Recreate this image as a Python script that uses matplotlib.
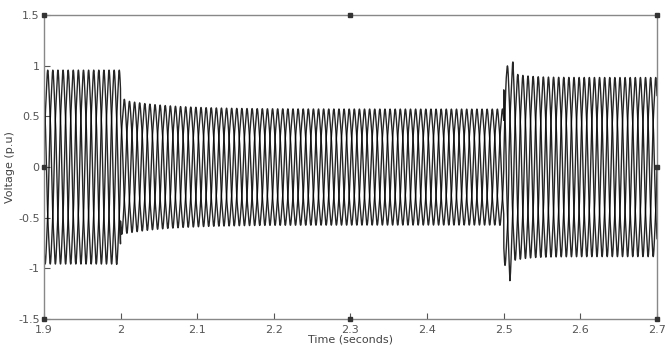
import matplotlib
matplotlib.use('Agg')
import matplotlib.pyplot as plt
import numpy as np

# segment boundaries (s) and envelope amplitudes (p.u)
seg_start = [1.9, 2.0, 2.5]
seg_end = [2.0, 2.5, 2.7]
amp_start = [0.92, 0.64, 0.92]
amp_end = [0.92, 0.55, 0.85]
decay = [1.0, 0.06, 0.02]
freq = 50.0
phase_shift_deg = [0, -120, 120]

# transient spikes at the switching instants (time, phase index, extra amplitude)
spike_t = [2.001, 2.503, 2.505, 2.508, 2.512]
spike_ph = [0, 0, 1, 2, 1]
spike_a = [0.08, 0.15, 0.10, 0.2, 0.12]

xticks = [1.9, 2.0, 2.1, 2.2, 2.3, 2.4, 2.5, 2.6, 2.7]
xlabels = ['1.9', '2', '2.1', '2.2', '2.3', '2.4', '2.5', '2.6', '2.7']
yticks = [-1.5, -1, -0.5, 0, 0.5, 1, 1.5]
ylabels = ['-1.5', '-1', '-0.5', '0', '0.5', '1', '1.5']

fig = plt.figure(figsize=(6.65, 3.51), dpi=100)
ax = fig.add_axes([0.066, 0.091, 0.922, 0.866])

t = np.linspace(1.9, 2.7, 16000)
for k in range(3):
    env = np.zeros_like(t)
    for s0, s1, a0, a1, tau in zip(seg_start, seg_end, amp_start, amp_end, decay):
        m = (t >= s0) & (t <= s1)
        env[m] = a1 + (a0 - a1) * np.exp(-(t[m] - s0) / tau)
    ph = np.deg2rad(phase_shift_deg[k])
    v = env * np.sin(2 * np.pi * freq * t + ph)
    # slight harmonic distortion
    v += 0.04 * env * np.sin(2 * np.pi * 5 * freq * t + 5 * ph)
    for st, sp, sa in zip(spike_t, spike_ph, spike_a):
        if sp == k:
            v += sa * np.sign(v) * np.exp(-np.abs(t - st) / 0.002)
    ax.plot(t, v, color='black', lw=1.0, alpha=0.85)

ax.set_xlim(1.9, 2.7)
ax.set_ylim(-1.5, 1.5)
ax.set_xticks(xticks)
ax.set_xticklabels(xlabels)
ax.set_yticks(yticks)
ax.set_yticklabels(ylabels)
ax.tick_params(direction='in', length=4, labelsize=8, colors='#555555')
ax.tick_params(axis='x', pad=4)
ax.tick_params(axis='y', pad=3)
for s in ax.spines.values():
    s.set_color('#888888')
    s.set_linewidth(1)
ax.set_xlabel('Time (seconds)', fontsize=8, color='#444444', labelpad=0)
ax.set_ylabel('Voltage (p.u)', fontsize=8, color='#444444', labelpad=2)

# selection handles like the original figure
hx = [1.9, 2.3, 2.7, 1.9, 2.7, 1.9, 2.3, 2.7]
hy = [1.5, 1.5, 1.5, 0, 0, -1.5, -1.5, -1.5]
ax.plot(hx, hy, 's', color='#333333', ms=3, clip_on=False, zorder=5)

fig.savefig('out.png', dpi=100)
